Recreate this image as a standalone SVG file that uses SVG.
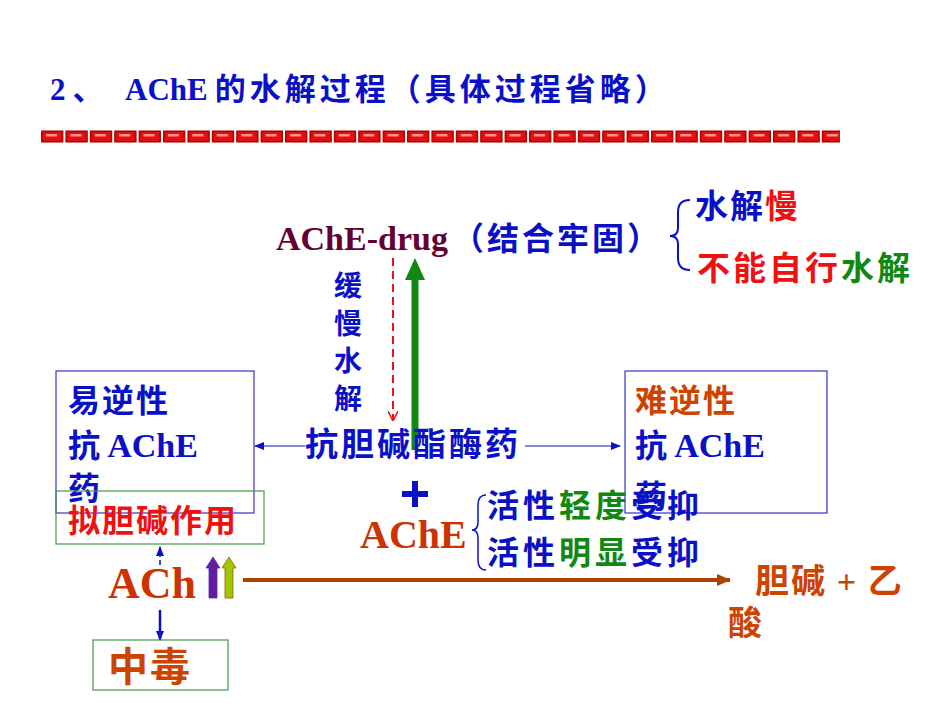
<svg xmlns="http://www.w3.org/2000/svg" width="950" height="713" viewBox="0 0 950 713">
<style>
.cn{font-family:"Noto Sans CJK SC","Liberation Serif",serif;font-weight:bold}
.lt{font-family:"Liberation Serif","Noto Sans CJK SC",serif;font-weight:bold}
.b{fill:#0a10c8}.r{fill:#ee1111}.g{fill:#118811}.o{fill:#cc4400}
.box{fill:none;stroke-width:1.2}
</style>
<defs>
<pattern id="tile" x="40" y="130" width="24.4" height="13" patternUnits="userSpaceOnUse">
<rect x="0" y="0" width="24.4" height="13" fill="#fff"/>
<rect x="1" y="0.5" width="22.4" height="12" fill="#aa0000"/>
<rect x="2.5" y="2" width="19.4" height="9" fill="#e01010"/>
<rect x="6" y="4" width="11" height="2.5" fill="#ff9090"/>
</pattern>
<marker id="ab" markerWidth="10" markerHeight="8" refX="9" refY="4" orient="auto" markerUnits="userSpaceOnUse"><path d="M0,0 L10,4 L0,8 Z" fill="#0a10c8"/></marker>
<marker id="ar" markerWidth="10" markerHeight="10" refX="9" refY="5" orient="auto" markerUnits="userSpaceOnUse"><path d="M0,0 L10,5 L0,10" fill="none" stroke="#ee1111" stroke-width="1.5"/></marker>
<marker id="abr" markerWidth="14" markerHeight="12" refX="13" refY="6" orient="auto" markerUnits="userSpaceOnUse"><path d="M0,0 L14,6 L0,12 Z" fill="#aa4400"/></marker>
</defs>
<rect width="950" height="713" fill="#fff"/>
<text x="50" y="100" class="cn b" font-size="31"><tspan class="lt">2</tspan> 、 <tspan class="lt" x="125">AChE</tspan> <tspan letter-spacing="4">的水解过程（具体过程省略）</tspan></text>
<rect x="40" y="130" width="800" height="13" fill="url(#tile)"/>

<g id="connectors">
<line x1="393" y1="258" x2="393" y2="420" stroke="#ee1111" stroke-width="2" stroke-dasharray="8,5" marker-end="url(#ar)"/>
<line x1="415" y1="450" x2="415" y2="278" stroke="#118811" stroke-width="7"/>
<polygon points="405,280 425,280 415,258" fill="#118811"/>
<line x1="305" y1="446" x2="255" y2="446" stroke="#0a10c8" stroke-width="1" marker-end="url(#ab)"/>
<line x1="525" y1="446" x2="620" y2="446" stroke="#0a10c8" stroke-width="1" marker-end="url(#ab)"/>
<line x1="160" y1="565" x2="160" y2="547" stroke="#0a10c8" stroke-width="1.5" stroke-dasharray="5,3" marker-end="url(#ab)"/>
<line x1="160" y1="610" x2="160" y2="640" stroke="#0a10c8" stroke-width="2.5" marker-end="url(#ab)"/>
<line x1="243" y1="580" x2="730" y2="580" stroke="#aa4400" stroke-width="4" marker-end="url(#abr)"/>
<path d="M690,200 Q678,200 678,212 L678,228 Q678,236 670,236 Q678,236 678,244 L678,258 Q678,270 690,270" fill="none" stroke="#0a10c8" stroke-width="2"/>
<path d="M486,495 Q478,495 478,505 L478,522 Q478,530 472,530 Q478,530 478,538 L478,560 Q478,570 486,570" fill="none" stroke="#0a10c8" stroke-width="1.5"/>
</g>

<g id="drug-complex">
<text x="276" y="250" class="lt" font-size="34" fill="#660033">AChE-drug</text>
<text x="452" y="250" class="cn b" font-size="32" letter-spacing="3">（结合牢固）</text>
<text x="695" y="218" class="cn b" font-size="33" letter-spacing="2">水解<tspan class="r">慢</tspan></text>
<text x="697" y="280" class="cn r" font-size="33" letter-spacing="3">不能自行<tspan class="g">水解</tspan></text>
</g>
<g id="slow-label" class="cn b" font-size="28">
<text x="334" y="296">缓</text><text x="334" y="334">慢</text><text x="334" y="371">水</text><text x="334" y="409">解</text>
</g>
<g id="drug"><text x="305" y="456" class="cn b" font-size="33" letter-spacing="3">抗胆碱酯酶药</text></g>
<g id="reversible">
<rect x="56" y="371" width="198" height="142" class="box" stroke="#3333cc"/>
<text x="68" y="412" class="cn b" font-size="32" letter-spacing="2">易逆性</text>
<text x="68" y="457" class="cn b" font-size="32">抗 <tspan class="lt" font-size="34">AChE</tspan></text>
<text x="68" y="500" class="cn b" font-size="32">药</text>
</g>
<g id="irreversible">
<rect x="625" y="371" width="202" height="142" class="box" stroke="#3333cc"/>
<text x="635" y="412" class="cn o" font-size="32" letter-spacing="2">难逆性</text>
<text x="635" y="457" class="cn b" font-size="32">抗 <tspan class="lt" font-size="34">AChE</tspan></text>
<text x="635" y="508" class="cn b" font-size="32">药</text>
</g>
<g id="plus"><path d="M415,481 V507 M402,494 H428" stroke="#0a10c8" stroke-width="6"/></g>
<g id="ache">
<text x="360" y="548" class="lt" font-size="40" fill="#cc3300">AChE</text>
<text x="487" y="517" class="cn b" font-size="32" letter-spacing="4">活性<tspan class="g">轻度</tspan>受抑</text>
<text x="487" y="564" class="cn b" font-size="32" letter-spacing="4">活性<tspan class="g">明显</tspan>受抑</text>
</g>
<g id="cholinergic">
<rect x="56" y="491" width="208" height="53" class="box" stroke="#449944"/>
<text x="68" y="532" class="cn r" font-size="32" letter-spacing="2">拟胆碱作用</text>
</g>
<g id="ach">
<text x="108" y="598" class="lt" font-size="44" fill="#cc3300">ACh</text>
<polygon points="209,598 209,568 206,568 213,557 220,568 217,568 217,598" fill="#6a1b9a" stroke="#3333cc" stroke-width="0.8"/>
<polygon points="225,598 225,568 222,568 229,557 236,568 233,568 233,598" fill="#99cc00" stroke="#cc4400" stroke-width="0.8"/>
</g>
<g id="poison">
<rect x="93" y="640" width="135" height="50" class="box" stroke="#449944"/>
<text x="108" y="681" class="cn o" font-size="40" letter-spacing="2">中毒</text>
</g>
<g id="products">
<text x="755" y="593" class="cn o" font-size="34" letter-spacing="2">胆碱 <tspan class="lt">+</tspan> 乙</text>
<text x="728" y="635" class="cn o" font-size="34">酸</text>
</g>
</svg>
